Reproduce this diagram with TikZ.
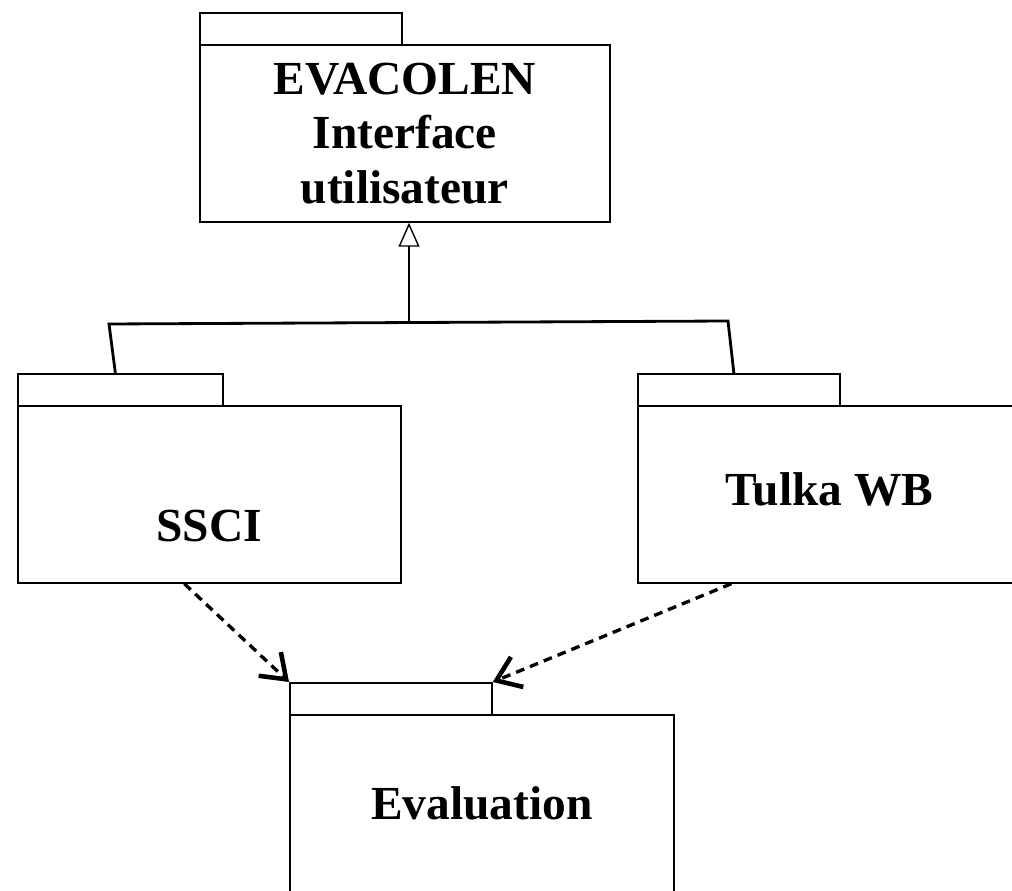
\documentclass[tikz,border=0pt]{standalone}
\usepackage{fontspec}
\setmainfont{Liberation Serif}
\usetikzlibrary{arrows.meta}

\tikzset{
  pkg/.style={draw, line width=1pt, anchor=north west, inner sep=0pt},
  pkgname/.style={font=\bfseries\fontsize{27}{31}\selectfont, align=center},
  tree/.style={line width=1.6pt},
  gen/.style={line width=0.8pt, -{Triangle[open,length=0.48cm,width=0.42cm]}},
  dep/.style={line width=1.9pt, dash pattern=on 5pt off 3.5pt,
    -{Straight Barb[length=0.45cm,width=0.65cm,line width=2.6pt]}},
}

\begin{document}
\begin{tikzpicture}[x=0.02cm, y=-0.02cm]%
   \useasboundingbox (0,0) rectangle (1012,891);
   % EVACOLEN package
   \node[pkg, minimum width=4.04cm, minimum height=0.64cm] (evac-tab) at (199,12) {};
   \node[pkg, minimum width=8.2cm, minimum height=3.54cm] (evac) at (199,44) {};
   \node[pkgname] (evac-name) at (evac.center) {EVACOLEN\\Interface\\utilisateur};
   % SSCI package
   \node[pkg, minimum width=4.1cm, minimum height=0.64cm] (ssci-tab) at (17,373) {};
   \node[pkg, minimum width=7.66cm, minimum height=3.54cm] (ssci) at (17,405) {};
   \node[pkgname] (ssci-name) at ([yshift=-0.64cm]ssci.center) {SSCI};
   % Tulka WB package
   \node[pkg, minimum width=4.04cm, minimum height=0.64cm] (tulka-tab) at (637,373) {};
   \node[pkg, minimum width=7.66cm, minimum height=3.54cm] (tulka) at (637,405) {};
   \node[pkgname] (tulka-name) at ([yshift=0.1cm]tulka.center) {Tulka WB};
   % Evaluation package
   \node[pkg, minimum width=4.04cm, minimum height=0.64cm] (eval-tab) at (289,682) {};
   \node[pkg, minimum width=7.68cm, minimum height=3.54cm] (eval) at (289,714) {};
   \node[pkgname] (eval-name) at (eval.center) {Evaluation};
   % generalisation
   \coordinate (kneeL) at (109,324);
   \coordinate (kneeR) at (728,321);
   \coordinate (joint) at (409,322);
   \draw[tree] ([xshift=-0.1cm]ssci-tab.north) -- (kneeL) -- (kneeR) -- ([xshift=-0.1cm]tulka-tab.north);
   \draw[gen] (joint) -- (evac.south -| joint);
   % dependencies
   \draw[dep] ([xshift=-0.5cm]ssci.south) -- (eval-tab.north west);
   \draw[dep] ([xshift=-1.96cm]tulka.south) -- (eval-tab.north east);
\end{tikzpicture}
\end{document}
